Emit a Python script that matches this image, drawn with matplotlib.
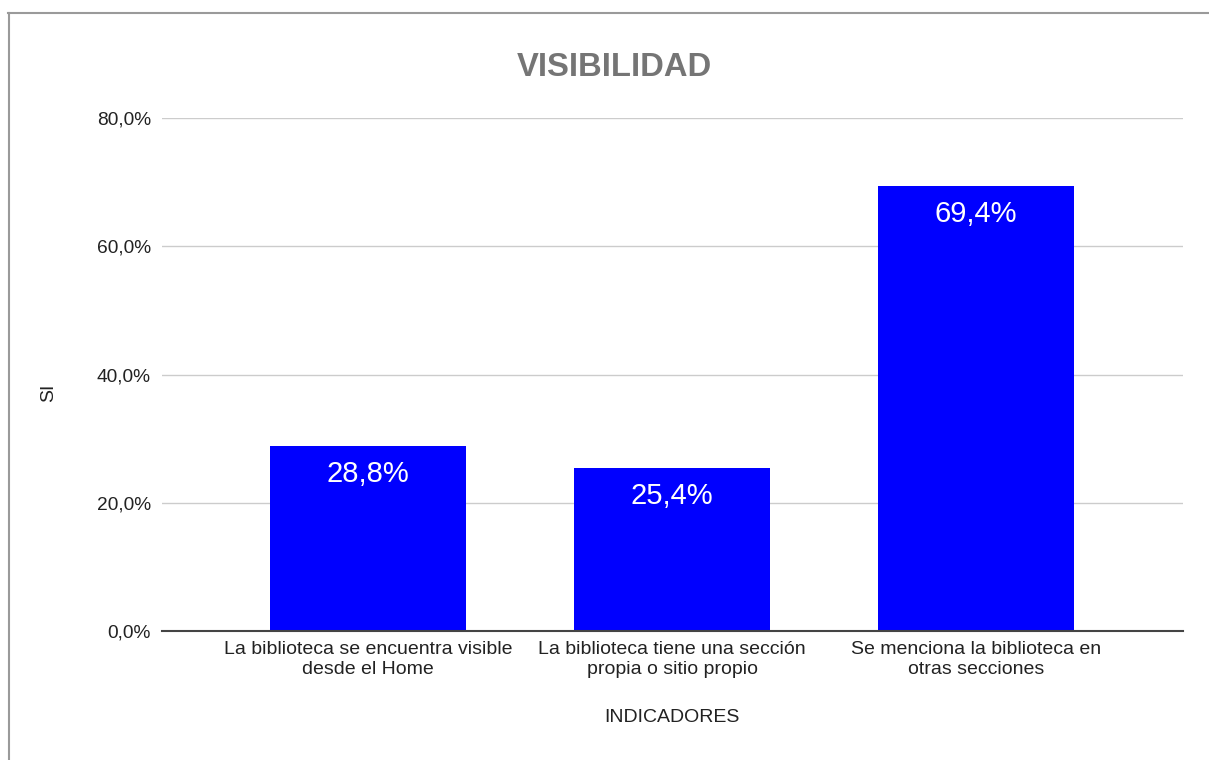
import matplotlib.pyplot as plt
from matplotlib.lines import Line2D
from matplotlib.ticker import FuncFormatter

plt.rcParams['font.family'] = ['Liberation Sans', 'DejaVu Sans']

# Data
categorias = ["La biblioteca se encuentra visible\ndesde el Home",
              "La biblioteca tiene una sección\npropia o sitio propio",
              "Se menciona la biblioteca en\notras secciones"]
valores = [28.8, 25.4, 69.4]
yticks = [0, 20, 40, 60, 80]

W, H = 1209, 760
fig = plt.figure(figsize=(W / 100, H / 100), dpi=100)
ax = fig.add_axes([162 / W, 1 - 631 / H, (1183 - 162) / W, (631 - 118) / H])

x = range(len(categorias))
bars = ax.bar(x, valores, width=0.645, color='#0000ff', zorder=3)

for b, v in zip(bars, valores):
    ax.annotate(f"{v:.1f}%".replace('.', ','),
                (b.get_x() + b.get_width() / 2, v),
                xytext=(0, -28), textcoords='offset pixels',
                ha='center', va='center', color='white', fontsize=21, zorder=4)

ax.set_xlim(-0.677, 2.68)
ax.set_ylim(0, 80)
ax.set_yticks(yticks)
ax.yaxis.set_major_formatter(FuncFormatter(lambda v, p: f"{v:.1f}%".replace('.', ',')))
ax.set_xticks(list(x))
ax.set_xticklabels(categorias, fontsize=14, color='#222222', linespacing=1.25)
ax.tick_params(axis='y', labelsize=13.8, colors='#222222', length=0, pad=8)
ax.tick_params(axis='x', length=0, pad=7)
ax.grid(axis='y', color='#cccccc', linewidth=1, zorder=0)

for s in ['top', 'right', 'left']:
    ax.spines[s].set_visible(False)
ax.spines['bottom'].set_color('#444444')
ax.spines['bottom'].set_linewidth(1.5)
ax.spines['bottom'].set_zorder(5)

ax.set_ylabel("SI", fontsize=14, color='#222222', labelpad=0)
ax.yaxis.set_label_coords((57 - 162) / (1183 - 162), (631 - 393) / (631 - 118))
ax.set_xlabel("INDICADORES", fontsize=14, color='#222222')
ax.xaxis.set_label_coords((672 - 162) / (1183 - 162), -(709 - 631) / (631 - 118))

fig.text(614 / W, 1 - 67 / H, "VISIBILIDAD", ha='center', va='center',
         fontsize=23.6, fontweight='bold', color='#757575')

# border around the chart
fig.add_artist(Line2D([8 / W, 1], [1 - 13 / H, 1 - 13 / H], color='#9a9a9a', lw=1.5))
fig.add_artist(Line2D([9 / W, 9 / W], [0, 1 - 13 / H], color='#9a9a9a', lw=1.5))

fig.savefig("out.png", dpi=100)
